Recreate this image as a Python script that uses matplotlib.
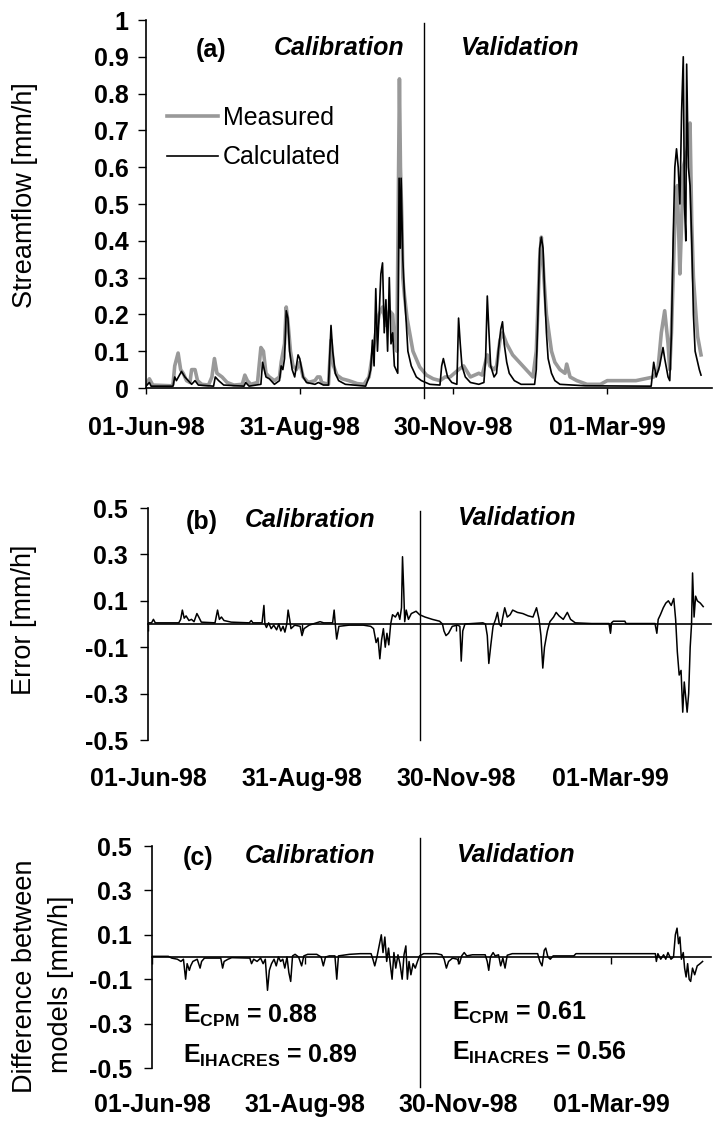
import matplotlib
matplotlib.use('Agg')
import matplotlib.pyplot as plt

plt.rcParams['font.family'] = ['Liberation Sans', 'DejaVu Sans']
plt.rcParams['axes.unicode_minus'] = False
plt.rcParams['mathtext.fontset'] = 'custom'
plt.rcParams['mathtext.rm'] = 'Liberation Sans:bold'
plt.rcParams['mathtext.bf'] = 'Liberation Sans:bold'

# ---------------- data (days since 01-Jun-98) ----------------
meas_days = [0, 2, 4, 15, 16, 17, 19, 20.5, 22, 24, 26, 27, 29, 30.5, 33, 37, 39, 40.5, 42, 45, 48, 52,
             57, 58.5, 60, 62, 66, 68, 69.5, 71, 73, 76, 79, 80, 82, 83, 84, 85.5, 87, 89, 91, 93, 96,
             100, 101.5, 103, 104, 108, 109.5, 111, 113, 116, 120, 125, 129, 132, 134, 136, 138, 140,
             142, 144, 146, 147, 148.5, 150, 150.6, 151.5, 152, 153, 154.5, 158, 162, 166, 170, 174,
             177, 180, 185, 188, 192, 197, 199, 202, 203.5, 206, 207.5, 209.5, 211, 213.5, 217, 221,
             225, 229, 231, 233, 234, 235.5, 237, 240, 242, 245, 248, 249, 251, 255, 261, 269, 273,
             290, 300.5, 303, 305, 307, 309, 310, 311, 313, 314.5, 316, 317, 318, 320.5, 322, 323,
             324, 325.5, 326.5, 328.5]
meas_flow = [0.01, 0.025, 0.008, 0.006, 0.01, 0.06, 0.095, 0.05, 0.04, 0.02, 0.015, 0.05, 0.05, 0.02,
             0.01, 0.008, 0.03, 0.08, 0.04, 0.03, 0.015, 0.008, 0.01, 0.035, 0.02, 0.01, 0.015, 0.11,
             0.1, 0.04, 0.03, 0.02, 0.03, 0.07, 0.12, 0.22, 0.18, 0.1, 0.06, 0.05, 0.07, 0.03, 0.015,
             0.02, 0.03, 0.03, 0.015, 0.01, 0.13, 0.06, 0.035, 0.025, 0.02, 0.012, 0.01, 0.03, 0.09,
             0.15, 0.2, 0.22, 0.17, 0.21, 0.2, 0.13, 0.1, 0.84, 0.6, 0.45, 0.3, 0.25, 0.19, 0.1,
             0.057, 0.035, 0.025, 0.02, 0.03, 0.03, 0.05, 0.06, 0.03, 0.04, 0.035, 0.09, 0.06, 0.05,
             0.06, 0.13, 0.15, 0.12, 0.09, 0.07, 0.05, 0.03, 0.1, 0.35, 0.41, 0.3, 0.2, 0.1, 0.07,
             0.05, 0.04, 0.065, 0.03, 0.02, 0.01, 0.01, 0.02, 0.02, 0.03, 0.05, 0.15, 0.21, 0.12,
             0.05, 0.15, 0.45, 0.55, 0.31, 0.45, 0.6, 0.65, 0.72, 0.45, 0.3, 0.2, 0.14, 0.09]

calc_days = [0, 2, 3, 16, 17, 18, 21, 23, 25, 27, 29, 31, 40, 41, 43, 46, 58, 59, 61, 68, 69, 71, 73,
             76, 79, 80, 81, 82, 83, 84, 85, 86.5, 88, 90, 91, 93, 95, 100, 102, 105, 108, 109.5,
             110.5, 112, 114, 118, 130, 132, 133, 134, 135, 136, 137, 138, 139, 140, 141, 142, 143,
             144, 145, 146, 147, 148, 149, 149.8, 150.5, 151, 152, 153, 154, 155, 157, 160, 163,
             168, 174, 175, 176, 177, 178.5, 181, 184, 184.5, 185, 186, 187, 189, 192, 197, 200,
             201, 202, 203, 204, 206, 207.5, 208.5, 210, 211, 212, 213.5, 215, 218, 222, 230, 231,
             232, 233, 234, 235, 236, 237, 238, 240, 242, 245, 260, 299, 300.5, 302, 304, 306, 307,
             309, 310, 311, 312, 313, 314, 315, 316, 317, 318, 318.7, 319.5, 320, 321, 322, 323,
             324, 325, 326.5, 327.5, 328.5]
calc_flow = [0.005, 0.015, 0.005, 0.005, 0.03, 0.02, 0.045, 0.03, 0.02, 0.01, 0.02, 0.008, 0.005,
             0.03, 0.02, 0.008, 0.005, 0.015, 0.005, 0.01, 0.07, 0.03, 0.025, 0.01, 0.02, 0.06, 0.05,
             0.08, 0.21, 0.19, 0.1, 0.05, 0.03, 0.09, 0.08, 0.03, 0.015, 0.01, 0.015, 0.008, 0.008,
             0.17, 0.1, 0.04, 0.02, 0.01, 0.005, 0.03, 0.05, 0.13, 0.06, 0.27, 0.1, 0.2, 0.31, 0.34,
             0.15, 0.24, 0.1, 0.3, 0.12, 0.15, 0.06, 0.05, 0.04, 0.57, 0.38, 0.57, 0.35, 0.25, 0.18,
             0.1, 0.06, 0.03, 0.02, 0.01, 0.008, 0.06, 0.08, 0.06, 0.03, 0.015, 0.01, 0.1, 0.19,
             0.12, 0.06, 0.03, 0.015, 0.01, 0.015, 0.08, 0.25, 0.15, 0.06, 0.03, 0.04, 0.1, 0.16,
             0.18, 0.12, 0.07, 0.04, 0.02, 0.01, 0.01, 0.05, 0.2, 0.38, 0.41, 0.38, 0.25, 0.15, 0.08,
             0.04, 0.02, 0.01, 0.006, 0.005, 0.07, 0.03, 0.06, 0.11, 0.08, 0.03, 0.02, 0.15, 0.4,
             0.6, 0.65, 0.6, 0.5, 0.75, 0.9, 0.5, 0.4, 0.88, 0.6, 0.55, 0.4, 0.2, 0.1, 0.07, 0.05,
             0.035]

err_days = [0, 2.1, 3.2, 4.3, 18.2, 19.3, 20.3, 21.4, 22.5, 24.2, 25.7, 27.2, 28.9, 30, 31.5, 39.6,
            41.1, 42.2, 43.4, 44.9, 49.2, 59.9, 61, 62, 67.4, 68.5, 69.1, 70, 71.3, 72.8, 74.3, 76,
            77.3, 78.5, 79.8, 80.9, 82, 82.8, 83.7, 84.5, 86.7, 89.9, 91, 92.2, 95.2, 101.7, 103.8,
            109.1, 110, 110.9, 111.5, 112.8, 118.8, 127.3, 131.6, 133.3, 134.8, 135.9, 137, 138,
            139.1, 140.2, 141.2, 142.3, 143.4, 144.5, 146.2, 147.7, 148.8, 149.8, 150.4, 151.1,
            151.7, 152.6, 153.9, 155.6, 158.4, 160.5, 163.7, 168, 172.3, 174, 174.9, 176.1, 177.6,
            179.8, 183, 184.3, 185.1, 186, 187.3, 197.9, 199.4, 200.5, 201.4, 202.6, 203.9, 205.4,
            206.5, 207.6, 208.7, 209.7, 210.8, 212.3, 214, 215.5, 218.3, 221.5, 224.7, 227.5,
            229.6, 231.1, 232.2, 233.3, 234.3, 236, 237.5, 239.7, 241.2, 242.9, 245.4, 247.8,
            249.7, 252.5, 262.2, 272.4, 273.3, 273.9, 275, 281.8, 282.5, 299.6, 300.7, 301.5,
            302.8, 304.5, 306, 307.5, 309.2, 310.7, 311.8, 312.8, 313.9, 315, 316, 316.9, 317.8,
            318.6, 319.5, 320.4, 321.2, 321.8, 322.7, 323.6, 324.6, 326.4, 328.1]
err_vals = [0.005, 0.005, 0.02, 0.005, 0.005, 0.02, 0.06, 0.025, 0.035, 0.015, 0.02, 0.01, 0.045,
            0.03, 0.008, 0.005, 0.06, 0.02, 0.03, 0.015, 0.008, 0.005, 0.015, 0.005, 0.005, 0.08,
            0.0, -0.015, 0.005, -0.02, -0.005, -0.025, 0.0, -0.03, -0.01, -0.035, 0.0, 0.06, 0.02,
            -0.02, -0.005, -0.01, -0.05, -0.02, -0.005, 0.01, 0.005, 0.005, 0.06, -0.02, -0.065,
            -0.01, -0.005, -0.005, -0.01, -0.02, -0.08, -0.06, -0.15, -0.07, -0.02, -0.1, -0.04,
            -0.09, 0.0, 0.04, 0.03, 0.05, 0.02, 0.07, 0.29, 0.15, 0.01, 0.06, 0.02, 0.045, 0.055,
            0.04, 0.03, 0.02, 0.012, 0.0, -0.03, -0.05, -0.04, -0.01, -0.005, -0.01, -0.16, -0.03,
            0.0, 0.005, 0.0, -0.05, -0.17, -0.09, -0.01, 0.02, 0.05, 0.0, -0.01, 0.03, 0.07, 0.03,
            0.04, 0.06, 0.05, 0.045, 0.035, 0.03, 0.07, 0.02, -0.05, -0.19, -0.1, -0.03, 0.01,
            0.03, 0.05, 0.035, 0.02, 0.05, 0.02, 0.005, 0.002, 0.002, -0.04, 0.005, 0.012, 0.012,
            0.002, 0.002, -0.04, 0.02, 0.04, 0.07, 0.09, 0.1, 0.08, 0.11, 0.02, -0.12, -0.22, -0.2,
            -0.38, -0.25, -0.32, -0.38, -0.3, -0.1, 0.0, 0.22, 0.03, 0.12, 0.1, 0.09, 0.075]

diff_days = [0, 9.7, 11.8, 15.1, 17.2, 18.7, 20, 20.9, 22.2, 23, 24.3, 26.9, 28.6, 29.5, 31.2, 40.9,
             42, 42.9, 45.2, 47.4, 58.2, 59.2, 60.5, 62.5, 64.6, 66.1, 67.4, 68.7, 69.8, 71.1, 72.6,
             73.9, 75.2, 76.5, 77.8, 79, 80.3, 81.4, 82.5, 83.6, 85.1, 87.2, 89, 90.3, 92.6, 98,
             100.6, 101.9, 103.2, 105.5, 108.8, 109.9, 110.9, 117.4, 123.9, 130.3, 131.4, 132.5,
             133.8, 135.1, 136.4, 137.4, 138.5, 139.6, 140.7, 141.7, 142.8, 143.9, 145, 146.3,
             147.5, 148.8, 149.9, 151, 151.9, 152.9, 154, 155.3, 156.6, 157.9, 159.2, 161.6, 169.1,
             172.3, 173.8, 175.1, 176.4, 178.8, 181.6, 182.9, 184.2, 185.7, 187.2, 190.6, 198.2,
             199.4, 200.3, 201.3, 202.9, 204.1, 206.1, 207.4, 208.7, 210, 211.3, 214.3, 229.4,
             230.7, 232, 233.3, 234.2, 235.5, 236.9, 238.6, 242.3, 250.9, 252.2, 299.4, 300,
             300.9, 302.6, 304.3, 305.6, 306.9, 308.7, 310.2, 311.3, 312.3, 313.2, 314, 314.9,
             316, 316.8, 317.7, 318.6, 319.5, 320.4, 321.5, 322.8, 324.3, 326, 327.5]
diff_vals = [0.003, 0.003, -0.005, -0.01, -0.02, -0.01, -0.1, -0.03, -0.06, -0.04, -0.02, -0.01,
             -0.05, -0.02, -0.005, -0.005, -0.05, -0.02, -0.01, -0.003, -0.005, -0.03, -0.01,
             -0.02, -0.005, -0.03, -0.01, -0.15, -0.06, -0.03, -0.01, -0.04, 0.0, -0.02, -0.01,
             -0.05, 0.0, -0.07, -0.11, 0.005, 0.012, 0.0, -0.04, 0.005, 0.012, 0.012, 0.0, -0.04,
             0.0, 0.005, 0.005, -0.1, 0.005, 0.012, 0.015, 0.015, -0.01, -0.04, 0.0, 0.05, 0.1,
             0.02, 0.09, -0.02, 0.04, -0.03, -0.1, 0.02, -0.05, 0.01, -0.03, -0.1, 0.01, 0.05,
             -0.1, -0.02, -0.08, -0.03, -0.05, -0.02, 0.005, 0.015, 0.015, 0.01, -0.01, -0.05,
             -0.02, -0.005, -0.01, -0.03, 0.005, 0.02, 0.005, 0.01, 0.01, -0.02, -0.06, 0.0, 0.02,
             0.005, 0.01, -0.04, -0.005, -0.05, 0.008, 0.015, 0.015, -0.02, -0.04, 0.03, 0.04, 0.0,
             -0.01, 0.005, 0.005, 0.005, 0.015, 0.015, -0.02, 0.015, -0.01, 0.01, -0.01, 0.02,
             -0.01, 0.0, 0.1, 0.13, 0.06, 0.09, -0.01, 0.02, -0.05, -0.09, -0.03, -0.1, -0.11,
             -0.05, -0.08, -0.04, -0.03, -0.02]

tick_days = [0, 91, 182, 273]
tick_labels = ['01-Jun-98', '31-Aug-98', '30-Nov-98', '01-Mar-99']
split_days = [164.5, 160.7, 159.3]
nse_cal = ['0.88', '0.89']
nse_val = ['0.61', '0.56']

# ---------------- layout helpers (pixels) ----------------
W, H = 713, 1125
fig = plt.figure(figsize=(W / 100, H / 100), dpi=100)


def rect(l, r, t, b):
    return [l / W, 1 - b / H, (r - l) / W, (b - t) / H]


def fpos(x, y):
    return (x / W, 1 - y / H)


FS = 18
bold = dict(fontsize=FS, fontweight='bold')
bi = dict(fontsize=FS, fontweight='bold', fontstyle='italic')

# ---------------- panel (a) ----------------
axa = fig.add_axes(rect(146, 712, 20, 388))
axa.plot(meas_days, meas_flow, color='#999999', lw=2.6, label='Measured', solid_joinstyle='round')
axa.plot(calc_days, calc_flow, color='black', lw=1.2, label='Calculated')
axa.set_xlim(0, 335)
axa.set_ylim(0, 1)
axa.set_yticks([i / 10 for i in range(11)])
axa.set_yticklabels(['0', '0.1', '0.2', '0.3', '0.4', '0.5', '0.6', '0.7', '0.8', '0.9', '1'])
axa.set_xticks(tick_days)
axa.set_xticklabels(tick_labels)
axa.tick_params(axis='y', direction='out', length=6, width=1, pad=6.5, labelsize=FS)
axa.tick_params(axis='x', direction='out', length=4, width=1, pad=16, labelsize=FS)
axa.axvline(split_days[0], ymin=-0.027, ymax=0.992, color='black', lw=1, clip_on=False)
leg = axa.legend(loc='upper left', bbox_to_anchor=fpos(167, 106), bbox_transform=fig.transFigure,
                 frameon=False, fontsize=FS, handlelength=2.05, handletextpad=0.18,
                 labelspacing=0.62, borderpad=0, borderaxespad=0)

# ---------------- panel (b) ----------------
axb = fig.add_axes(rect(148, 711, 508, 740))
axb.plot(err_days, err_vals, color='black', lw=1.1)
axb.set_xlim(0, 332.7)
axb.set_ylim(-0.5, 0.5)
axb.axvline(split_days[1], ymin=0.0, ymax=0.987, color='black', lw=1, clip_on=False)

# ---------------- panel (c) ----------------
axc = fig.add_axes(rect(152, 711, 846, 1068))
axc.plot(diff_days, diff_vals, color='black', lw=1.1)
axc.set_xlim(0, 332.5)
axc.set_ylim(-0.5, 0.5)
axc.axvline(split_days[2], ymin=-0.086, ymax=1.036, color='black', lw=1, clip_on=False)

for ax, pad in ((axb, 19.5), (axc, 18)):
    ax.set_yticks([0.5, 0.3, 0.1, -0.1, -0.3, -0.5])
    ax.set_yticklabels(['0.5', '0.3', '0.1', '-0.1', '-0.3', '-0.5'])
    ax.tick_params(axis='y', direction='out', length=6, width=1, pad=8.5, labelsize=FS)
    ax.set_xticks(tick_days)
    ax.set_xticklabels(tick_labels)
    ax.tick_params(axis='x', length=0, pad=pad, labelsize=FS)
    ax.spines['bottom'].set_visible(False)
    sec = ax.secondary_xaxis(0.5)
    sec.set_alignment('bottom')
    sec.set_xticks(tick_days)
    sec.tick_params(axis='x', direction='out', length=5, width=1, labelbottom=False, labeltop=False)
    sec.spines['bottom'].set_linewidth(1.2)

for ax in (axa, axb, axc):
    ax.spines['top'].set_visible(False)
    ax.spines['right'].set_visible(False)
    ax.spines['left'].set_linewidth(1.2)
    ax.spines['bottom'].set_linewidth(1.2)
    for lab in ax.get_xticklabels() + ax.get_yticklabels():
        lab.set_fontweight('bold')

# ---------------- titles / labels ----------------
for (lx, ly, lab), (cx, cy), (vx, vy) in (
        ((211, 50, '(a)'), (339, 48), (520, 48)),
        ((202, 522, '(b)'), (310, 520), (517, 518)),
        ((198, 858, '(c)'), (310, 856), (516, 855))):
    fig.text(*fpos(lx, ly), lab, ha='center', va='center', **bold)
    fig.text(*fpos(cx, cy), 'Calibration', ha='center', va='center', **bi)
    fig.text(*fpos(vx, vy), 'Validation', ha='center', va='center', **bi)

YL = 19.5
fig.text(*fpos(25, 195), 'Streamflow [mm/h]', rotation=90, ha='center', va='center', fontsize=YL)
fig.text(*fpos(24, 620), 'Error [mm/h]', rotation=90, ha='center', va='center', fontsize=YL)
fig.text(*fpos(25, 976), 'Difference between', rotation=90, ha='center', va='center', fontsize=YL)
fig.text(*fpos(61, 984), 'models [mm/h]', rotation=90, ha='center', va='center', fontsize=YL)

fig.text(*fpos(183, 1023), r'E$_{\mathrm{CPM}}$ = ' + nse_cal[0], ha='left', va='baseline', **bold)
fig.text(*fpos(183, 1063), r'E$_{\mathrm{IHACRES}}$ = ' + nse_cal[1], ha='left', va='baseline', **bold)
fig.text(*fpos(452, 1020), r'E$_{\mathrm{CPM}}$ = ' + nse_val[0], ha='left', va='baseline', **bold)
fig.text(*fpos(452, 1060), r'E$_{\mathrm{IHACRES}}$ = ' + nse_val[1], ha='left', va='baseline', **bold)

fig.savefig('out.png', dpi=100)
